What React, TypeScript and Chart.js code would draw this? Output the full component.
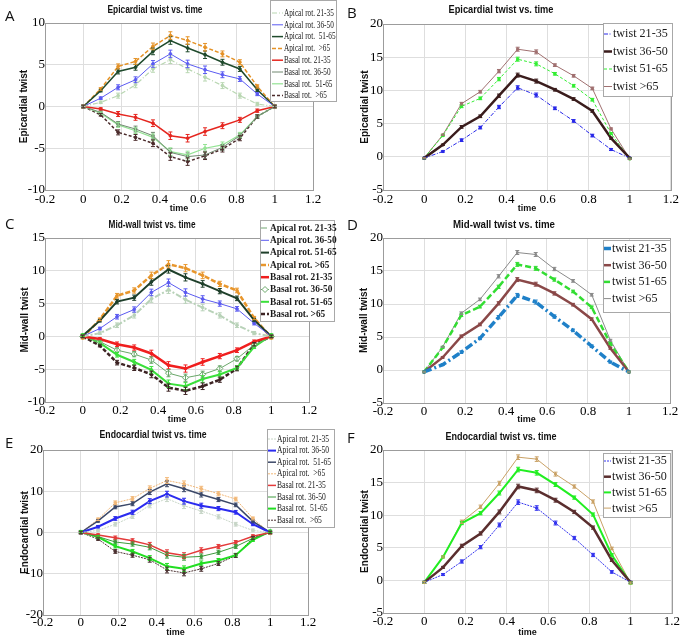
import React, { useEffect, useRef } from "react";
import { Chart, registerables } from "chart.js";

Chart.register(...registerables);

// ---------- data ----------
const times = [0, 0.091, 0.182, 0.273, 0.364, 0.455, 0.545, 0.636, 0.727, 0.818, 0.909, 1];
const xTickMin = -0.2;
const xTickMax = 1.2;

const apicalBasalLabels = ["Apical rot. 21-35", "Apical rot. 36-50", "Apical rot.  51-65", "Apical rot.  >65", "Basal rot. 21-35", "Basal rot. 36-50", "Basal rot.  51-65", "Basal rot.  >65"];
const apicalBasalLabelsMid = ["Apical rot. 21-35", "Apical rot. 36-50", "Apical rot. 51-65", "Apical rot. >65", "Basal rot. 21-35", "Basal rot. 36-50", "Basal rot. 51-65", "Basal rot. >65"];
const twistLabels = ["twist 21-35", "twist 36-50", "twist 51-65", "twist >65"];

// A: epicardial rotations
const epiApical21 = [0, 0.5, 1.3, 2.6, 4.5, 5.6, 4.5, 3.5, 2.5, 1.3, 0.3, 0];
const epiApical36 = [0, 1.0, 2.3, 3.2, 5.1, 6.3, 5.1, 4.4, 3.8, 3.3, 1.5, 0];
const epiApical51 = [0, 1.9, 4.2, 4.7, 6.6, 7.9, 7.0, 6.2, 5.3, 4.5, 2.0, 0];
const epiApical65 = [0, 2.1, 4.8, 5.4, 7.2, 8.5, 7.9, 7.1, 6.3, 5.3, 2.4, 0];
const epiBasal21 = [0, -0.3, -0.9, -1.3, -2.0, -3.5, -3.8, -3.0, -2.3, -1.6, -0.5, 0];
const epiBasal36 = [0, -0.7, -2.1, -2.7, -3.5, -5.5, -6.0, -5.8, -4.9, -3.5, -1.2, 0];
const epiBasal51 = [0, -0.8, -2.2, -2.9, -3.7, -5.4, -5.8, -5.0, -4.6, -3.4, -1.2, 0];
const epiBasal65 = [0, -1.0, -3.1, -3.7, -4.4, -6.0, -6.6, -5.9, -5.1, -3.8, -1.2, 0];
const errA = [0.15, 0.15, 0.3, 0.35, 0.4, 0.45, 0.45, 0.45, 0.35, 0.3, 0.2, 0.15];

// B: epicardial twist
const epiTwist21 = [-0.2, 0.8, 2.5, 4.4, 7.5, 10.4, 9.3, 7.3, 5.4, 3.2, 1.1, -0.2];
const epiTwist36 = [-0.2, 1.8, 4.5, 6.1, 9.2, 12.3, 11.4, 10.1, 8.7, 6.9, 2.8, -0.2];
const epiTwist51 = [-0.2, 3.2, 7.6, 8.8, 11.7, 14.7, 14.0, 12.5, 10.7, 8.6, 3.5, -0.3];
const epiTwist65 = [-0.2, 3.3, 8.0, 9.8, 12.9, 16.2, 15.8, 13.8, 12.2, 10.3, 4.2, -0.3];
const errB = [0.1, 0.1, 0.2, 0.2, 0.25, 0.3, 0.3, 0.2, 0.2, 0.2, 0.15, 0.1];

// C: mid-wall rotations
const midApical21 = [0, 0.5, 1.7, 3.2, 5.7, 7.1, 5.6, 4.4, 3.2, 1.7, 0.5, 0];
const midApical36 = [0, 1.2, 3.0, 4.1, 6.7, 8.2, 6.7, 5.7, 5.0, 4.2, 2.0, 0];
const midApical51 = [0.1, 2.4, 5.3, 5.9, 8.3, 10.2, 9.0, 8.0, 6.9, 5.8, 2.5, 0];
const midApical65 = [-0.2, 2.6, 6.2, 7.0, 9.3, 11.0, 10.4, 9.3, 8.0, 7.0, 2.8, -0.2];
const midBasal21 = [0, -0.4, -1.2, -1.7, -2.6, -4.4, -4.9, -3.9, -3.0, -2.1, -0.8, 0];
const midBasal36 = [0, -0.8, -2.1, -2.7, -3.6, -5.6, -6.3, -5.8, -4.9, -3.4, -1.3, 0];
const midBasal51 = [0.2, -1.0, -2.8, -3.9, -5.1, -7.2, -7.6, -6.5, -5.8, -4.8, -1.6, 0.2];
const midBasal65 = [0, -1.4, -4.0, -4.8, -5.8, -7.8, -8.3, -7.6, -6.6, -4.9, -1.2, 0];
const errC = [0.2, 0.2, 0.35, 0.4, 0.5, 0.55, 0.55, 0.5, 0.4, 0.35, 0.25, 0.2];

// D: mid-wall twist
const midTwist21 = [-0.3, 0.8, 2.7, 4.8, 8.0, 11.3, 10.3, 8.1, 6.0, 3.6, 1.2, -0.3];
const midTwist36 = [-0.3, 1.9, 5.1, 6.9, 10.1, 13.7, 13.0, 11.6, 9.9, 7.7, 3.3, -0.3];
const midTwist51 = [-0.3, 3.4, 8.3, 9.6, 12.6, 16.0, 15.4, 13.7, 11.9, 9.5, 4.0, -0.3];
const midTwist65 = [-0.3, 3.5, 8.6, 10.7, 14.2, 17.8, 17.5, 15.3, 13.5, 11.4, 4.5, -0.3];
const errD = [0.1, 0.1, 0.2, 0.2, 0.25, 0.3, 0.3, 0.25, 0.2, 0.2, 0.15, 0.1];

// E: endocardial rotations
const endoApical21 = [0, 0.5, 2.0, 3.9, 6.6, 8.2, 6.5, 5.2, 3.8, 2.0, 0.5, 0];
const endoApical36 = [0, 1.4, 3.4, 4.9, 7.6, 9.3, 7.6, 6.5, 5.8, 4.9, 2.0, 0];
const endoApical51 = [0, 2.8, 6.2, 7.0, 9.8, 11.8, 10.6, 9.2, 8.0, 6.7, 2.7, 0];
const endoApical65 = [0, 3.2, 7.2, 8.2, 10.7, 12.6, 11.8, 10.6, 9.4, 8.1, 3.4, -0.2];
const endoBasal21 = [0, -0.6, -1.3, -2.0, -3.0, -4.9, -5.6, -4.3, -3.4, -2.4, -0.9, 0];
const endoBasal36 = [0, -1.0, -2.3, -2.8, -3.6, -5.5, -6.0, -5.8, -4.8, -3.4, -1.4, 0];
const endoBasal51 = [0.2, -1.1, -3.3, -4.6, -6.2, -8.2, -8.8, -7.5, -6.8, -5.5, -1.8, 0.3];
const endoBasal65 = [0, -1.6, -4.6, -5.5, -6.6, -9.1, -9.8, -8.8, -7.5, -5.6, -1.3, 0];
const errE = [0.3, 0.3, 0.45, 0.5, 0.6, 0.7, 0.7, 0.6, 0.5, 0.45, 0.35, 0.3];

// F: endocardial twist
const endoTwist21 = [-0.3, 0.9, 2.9, 5.1, 8.5, 12.0, 11.1, 8.8, 6.5, 3.9, 1.3, -0.3];
const endoTwist36 = [-0.3, 2.0, 5.3, 7.2, 10.5, 14.4, 13.8, 12.3, 10.5, 8.1, 3.1, -0.3];
const endoTwist51 = [-0.3, 3.6, 8.8, 10.3, 13.4, 17.0, 16.5, 14.7, 12.7, 10.1, 3.9, -0.4];
const endoTwist65 = [-0.3, 3.6, 9.0, 11.3, 14.9, 18.9, 18.6, 16.3, 14.4, 12.1, 4.9, -0.4];
const errF = [0.15, 0.15, 0.25, 0.25, 0.3, 0.35, 0.35, 0.3, 0.25, 0.25, 0.2, 0.15];

// ---------- helpers ----------
const SANS = "'Liberation Sans', Arial, sans-serif";
const SERIF = "'Liberation Serif', 'Times New Roman', serif";

type Sty = { color: string; width: number; dash?: number[]; point?: string; radius?: number; pointBg?: string };

function series(label: string, vals: number[], errs: number[], s: Sty) {
  return {
    label,
    data: times.map((t, i) => ({ x: t, y: vals[i] })),
    errors: errs,
    borderColor: s.color,
    backgroundColor: s.color,
    borderWidth: s.width,
    borderDash: s.dash || [],
    pointStyle: s.point || "circle",
    pointRadius: s.radius ?? 1.4,
    pointBorderWidth: 1,
    pointBackgroundColor: s.pointBg || s.color,
    pointBorderColor: s.color,
    tension: 0,
    fill: false,
  };
}

const errorBarsPlugin = {
  id: "errorBars",
  afterDatasetsDraw(chart: any) {
    const ctx = chart.ctx;
    const ys = chart.scales.y;
    chart.data.datasets.forEach((ds: any, i: number) => {
      if (!ds.errors) return;
      const meta = chart.getDatasetMeta(i);
      ctx.save();
      ctx.strokeStyle = ds.borderColor;
      ctx.lineWidth = 1;
      ctx.setLineDash([]);
      meta.data.forEach((pt: any, j: number) => {
        const v = ds.data[j].y;
        const e = ds.errors[j];
        const yt = ys.getPixelForValue(v + e);
        const yb = ys.getPixelForValue(v - e);
        ctx.beginPath();
        ctx.moveTo(pt.x, yt);
        ctx.lineTo(pt.x, yb);
        ctx.moveTo(pt.x - 2, yt);
        ctx.lineTo(pt.x + 2, yt);
        ctx.moveTo(pt.x - 2, yb);
        ctx.lineTo(pt.x + 2, yb);
        ctx.stroke();
      });
      ctx.restore();
    });
  },
};

const framePlugin = {
  id: "frame",
  beforeDatasetsDraw(chart: any) {
    const { ctx, chartArea: a } = chart;
    ctx.save();
    ctx.strokeStyle = "#9c9c9c";
    ctx.lineWidth = 1;
    ctx.strokeRect(Math.round(a.left) + 0.5, Math.round(a.top) + 0.5, Math.round(a.right - a.left), Math.round(a.bottom - a.top));
    ctx.restore();
  },
};

const panelTitlePlugin = {
  id: "panelTitle",
  afterDraw(chart: any, _args: any, o: any) {
    if (!o || !o.text) return;
    const ctx = chart.ctx;
    ctx.save();
    ctx.font = o.textFont;
    const w = ctx.measureText(o.text).width;
    const sx = o.width / w;
    ctx.fillStyle = "#111";
    ctx.textAlign = "center";
    ctx.textBaseline = "middle";
    ctx.translate(o.cx, o.cy);
    ctx.scale(sx, 1);
    ctx.fillText(o.text, 0, 0);
    ctx.restore();
  },
};

const boxLegendPlugin = {
  id: "boxLegend",
  afterDraw(chart: any, _args: any, o: any) {
    if (!o || o.x0 === undefined) return;
    const ctx = chart.ctx;
    ctx.save();
    ctx.fillStyle = "#ffffff";
    ctx.fillRect(o.x0, o.y0, o.x1 - o.x0, o.y1 - o.y0);
    ctx.strokeStyle = "#a8a8a8";
    ctx.lineWidth = 1;
    ctx.strokeRect(o.x0 + 0.5, o.y0 + 0.5, o.x1 - o.x0 - 1, o.y1 - o.y0 - 1);
    chart.data.datasets.forEach((ds: any, i: number) => {
      const y = o.row0 + i * o.step;
      ctx.strokeStyle = ds.borderColor;
      ctx.lineWidth = ds.borderWidth;
      ctx.setLineDash(ds.borderDash || []);
      ctx.beginPath();
      ctx.moveTo(o.sampleX0, y);
      ctx.lineTo(o.textX - 1, y);
      ctx.stroke();
      ctx.setLineDash([]);
      if (ds.pointStyle === "rectRot") {
        const cx = (o.sampleX0 + o.textX - 1) / 2;
        ctx.fillStyle = "#fff";
        ctx.lineWidth = 1;
        ctx.beginPath();
        ctx.moveTo(cx, y - 3);
        ctx.lineTo(cx + 3, y);
        ctx.lineTo(cx, y + 3);
        ctx.lineTo(cx - 3, y);
        ctx.closePath();
        ctx.fill();
        ctx.stroke();
      }
      ctx.fillStyle = "#1a1a1a";
      ctx.font = o.textFont;
      ctx.textBaseline = "middle";
      ctx.textAlign = "left";
      ctx.save();
      ctx.translate(o.textX, y);
      ctx.scale(o.sx, 1);
      ctx.fillText(ds.label, 0, 0);
      ctx.restore();
    });
    ctx.restore();
  },
};

type PanelCfg = {
  letter: string;
  letterPos: { x: number; y: number };
  title: string;
  titlePos: { cx: number; cy: number; width: number };
  yTitle: string;
  box: { left: number; top: number; w: number; h: number };
  area: { l: number; t: number; r: number; b: number };
  yMin: number;
  yMax: number;
  yStep: number;
  yTitlePad: number;
  xTickPad: number;
  datasets: any[];
  legend: { x0: number; y0: number; x1: number; y1: number; row0: number; step: number; textX: number; sampleX0: number; textFont: string; sx: number };
};

const panels: PanelCfg[] = [
  {
    letter: "A",
    letterPos: { x: 5, y: 8 },
    title: "Epicardial twist vs. time",
    titlePos: { cx: 155, cy: 10, width: 95 },
    yTitle: "Epicardial twist",
    box: { left: 0, top: 0, w: 340, h: 214 },
    area: { l: 45, t: 23, r: 313, b: 190 },
    yMin: -10, yMax: 10, yStep: 5,
    yTitlePad: 18, xTickPad: 2,
    datasets: [
      series(apicalBasalLabels[0], epiApical21, errA, { color: "#b9d7b2", width: 1.2, dash: [5, 2, 1, 2] }),
      series(apicalBasalLabels[1], epiApical36, errA, { color: "#5b5bf2", width: 1 }),
      series(apicalBasalLabels[2], epiApical51, errA, { color: "#1f4a2c", width: 1.5 }),
      series(apicalBasalLabels[3], epiApical65, errA, { color: "#e59226", width: 1.5, dash: [4, 2] }),
      series(apicalBasalLabels[4], epiBasal21, errA, { color: "#e5261f", width: 1.5 }),
      series(apicalBasalLabels[5], epiBasal36, errA, { color: "#708870", width: 1 }),
      series(apicalBasalLabels[6], epiBasal51, errA, { color: "#94e394", width: 1.2 }),
      series(apicalBasalLabels[7], epiBasal65, errA, { color: "#4b2b2b", width: 1.5, dash: [3, 2] }),
    ],
    legend: { x0: 270, y0: 0, x1: 337, y1: 102, row0: 13, step: 11.8, textX: 284, sampleX0: 272, textFont: `11px ${SERIF}`, sx: 0.66 },
  },
  {
    letter: "B",
    letterPos: { x: 347, y: 5 },
    title: "Epicardial twist vs. time",
    titlePos: { cx: 501, cy: 10, width: 105 },
    yTitle: "Epicardial twist",
    box: { left: 340, top: 0, w: 341, h: 214 },
    area: { l: 383, t: 24, r: 673, b: 190 },
    yMin: -5, yMax: 20, yStep: 5,
    yTitlePad: 19, xTickPad: 2,
    datasets: [
      series(twistLabels[0], epiTwist21, errB, { color: "#2828e8", width: 1, dash: [4, 1.5, 1, 1.5], point: "rect", radius: 1.5 }),
      series(twistLabels[1], epiTwist36, errB, { color: "#3a1c1c", width: 2.5, point: "rect", radius: 1.5 }),
      series(twistLabels[2], epiTwist51, errB, { color: "#33ee33", width: 1, dash: [3, 2], point: "rect", radius: 1.5 }),
      series(twistLabels[3], epiTwist65, errB, { color: "#a07070", width: 1, point: "rect", radius: 1.5 }),
    ],
    legend: { x0: 603, y0: 23, x1: 673, y1: 97, row0: 34, step: 17.5, textX: 613, sampleX0: 604, textFont: `13px ${SERIF}`, sx: 0.93 },
  },
  {
    letter: "C",
    letterPos: { x: 5, y: 216 },
    title: "Mid-wall twist vs. time",
    titlePos: { cx: 152, cy: 225, width: 87 },
    yTitle: "Mid-wall twist",
    box: { left: 0, top: 212, w: 340, h: 213 },
    area: { l: 45, t: 238, r: 309, b: 402 },
    yMin: -10, yMax: 15, yStep: 5,
    yTitlePad: 19, xTickPad: 1,
    datasets: [
      series(apicalBasalLabelsMid[0], midApical21, errC, { color: "#b8d2b8", width: 2, dash: [6, 2, 2, 2] }),
      series(apicalBasalLabelsMid[1], midApical36, errC, { color: "#5a5af0", width: 1 }),
      series(apicalBasalLabelsMid[2], midApical51, errC, { color: "#1e3f2a", width: 2 }),
      series(apicalBasalLabelsMid[3], midApical65, errC, { color: "#e8962c", width: 2.5, dash: [5, 2] }),
      series(apicalBasalLabelsMid[4], midBasal21, errC, { color: "#f01e1e", width: 2.5 }),
      series(apicalBasalLabelsMid[5], midBasal36, errC, { color: "#6aa86a", width: 1, point: "rectRot", radius: 3, pointBg: "#ffffff" }),
      series(apicalBasalLabelsMid[6], midBasal51, errC, { color: "#3ae03a", width: 2 }),
      series(apicalBasalLabelsMid[7], midBasal65, errC, { color: "#3d2424", width: 2.5, dash: [4, 2] }),
    ],
    legend: { x0: 260, y0: 220, x1: 335, y1: 322, row0: 228, step: 12.3, textX: 270, sampleX0: 261, textFont: `bold 11px ${SERIF}`, sx: 0.85 },
  },
  {
    letter: "D",
    letterPos: { x: 347, y: 217 },
    title: "Mid-wall twist vs. time",
    titlePos: { cx: 504, cy: 225, width: 102 },
    yTitle: "Mid-wall twist",
    box: { left: 340, top: 212, w: 341, h: 213 },
    area: { l: 383, t: 238, r: 670, b: 403 },
    yMin: -5, yMax: 20, yStep: 5,
    yTitlePad: 18, xTickPad: 1,
    datasets: [
      series(twistLabels[0], midTwist21, errD, { color: "#1f80c8", width: 3.5, dash: [8, 3, 2, 3], point: "rect", radius: 1.5 }),
      series(twistLabels[1], midTwist36, errD, { color: "#8a4848", width: 2.5, point: "rect", radius: 1.5 }),
      series(twistLabels[2], midTwist51, errD, { color: "#33dd33", width: 2.5, dash: [6, 3], point: "rect", radius: 1.5 }),
      series(twistLabels[3], midTwist65, errD, { color: "#8a8a8a", width: 1, point: "rect", radius: 1.2 }),
    ],
    legend: { x0: 603, y0: 240, x1: 671, y1: 313, row0: 248.5, step: 16.7, textX: 612, sampleX0: 604, textFont: `13px ${SERIF}`, sx: 0.93 },
  },
  {
    letter: "E",
    letterPos: { x: 5, y: 435 },
    title: "Endocardial twist vs. time",
    titlePos: { cx: 153, cy: 435, width: 107 },
    yTitle: "Endocardial twist",
    box: { left: 0, top: 424, w: 340, h: 214 },
    area: { l: 43, t: 450, r: 308, b: 615 },
    yMin: -20, yMax: 20, yStep: 10,
    yTitlePad: 19, xTickPad: 0,
    datasets: [
      series(apicalBasalLabels[0], endoApical21, errE, { color: "#c8d6c8", width: 1, dash: [2, 1] }),
      series(apicalBasalLabels[1], endoApical36, errE, { color: "#2b2bef", width: 2 }),
      series(apicalBasalLabels[2], endoApical51, errE, { color: "#3b4868", width: 1.5 }),
      series(apicalBasalLabels[3], endoApical65, errE, { color: "#f2b878", width: 1, dash: [2, 1] }),
      series(apicalBasalLabels[4], endoBasal21, errE, { color: "#e43a3a", width: 1.5 }),
      series(apicalBasalLabels[5], endoBasal36, errE, { color: "#3c9a3c", width: 1 }),
      series(apicalBasalLabels[6], endoBasal51, errE, { color: "#22de22", width: 2 }),
      series(apicalBasalLabels[7], endoBasal65, errE, { color: "#4a3030", width: 1, dash: [2, 1] }),
    ],
    legend: { x0: 267, y0: 429, x1: 335, y1: 528, row0: 439, step: 11.6, textX: 277, sampleX0: 268, textFont: `10px ${SERIF}`, sx: 0.76 },
  },
  {
    letter: "F",
    letterPos: { x: 347, y: 430 },
    title: "Endocardial twist vs. time",
    titlePos: { cx: 501, cy: 437, width: 111 },
    yTitle: "Endocardial twist",
    box: { left: 340, top: 424, w: 341, h: 214 },
    area: { l: 383, t: 450, r: 673, b: 613 },
    yMin: -5, yMax: 20, yStep: 5,
    yTitlePad: 19, xTickPad: 1,
    datasets: [
      series(twistLabels[0], endoTwist21, errF, { color: "#3434ee", width: 1, dash: [2, 1], point: "rect", radius: 1.5 }),
      series(twistLabels[1], endoTwist36, errF, { color: "#5a2e2e", width: 2.5, point: "rect", radius: 1.5 }),
      series(twistLabels[2], endoTwist51, errF, { color: "#22ee22", width: 2, point: "rect", radius: 1.5 }),
      series(twistLabels[3], endoTwist65, errF, { color: "#c9a165", width: 1, point: "rect", radius: 1.2 }),
    ],
    legend: { x0: 603, y0: 453, x1: 671, y1: 518, row0: 461, step: 15.7, textX: 612, sampleX0: 604, textFont: `13px ${SERIF}`, sx: 0.93 },
  },
];

function Panel({ cfg }: { cfg: PanelCfg }) {
  const ref = useRef<HTMLCanvasElement | null>(null);
  useEffect(() => {
    if (!ref.current) return;
    const { box, area } = cfg;
    const padRight = box.left + box.w - area.r;
    const yw = area.l - box.left;
    const xh = box.top + box.h - area.b;
    const titleH = area.t - box.top;
    const lg = cfg.legend;
    const chart = new Chart(ref.current, {
      type: "line",
      data: { datasets: cfg.datasets },
      plugins: [framePlugin, errorBarsPlugin, boxLegendPlugin, panelTitlePlugin],
      options: {
        animation: false,
        responsive: false,
        maintainAspectRatio: false,
        layout: { padding: { left: 0, right: padRight, top: titleH, bottom: 0 } },
        plugins: {
          legend: { display: false },
          tooltip: { enabled: false },
          title: { display: false },
          panelTitle: {
            text: cfg.title,
            cx: cfg.titlePos.cx - box.left,
            cy: cfg.titlePos.cy - box.top,
            width: cfg.titlePos.width,
            textFont: `bold 11px ${SANS}`,
          },
          boxLegend: {
            x0: lg.x0 - box.left, y0: lg.y0 - box.top, x1: lg.x1 - box.left, y1: lg.y1 - box.top,
            row0: lg.row0 - box.top, step: lg.step, textX: lg.textX - box.left, sampleX0: lg.sampleX0 - box.left,
            textFont: lg.textFont, sx: lg.sx,
          },
        } as any,
        scales: {
          x: {
            type: "linear",
            min: xTickMin,
            max: xTickMax,
            afterFit: (s: any) => { s.height = xh; },
            ticks: {
              stepSize: 0.2,
              autoSkip: false,
              maxRotation: 0,
              padding: cfg.xTickPad,
              color: "#000",
              font: { family: SERIF, size: 13 },
              callback: (v: any) => String(Math.round(Number(v) * 10) / 10),
            },
            grid: { color: "#dedede", drawTicks: false },
            border: { display: false },
            title: {
              display: true,
              text: "time",
              color: "#111",
              font: { family: SANS, size: 9, weight: "bold" },
              padding: { top: 0, bottom: 0 },
            },
          },
          y: {
            type: "linear",
            min: cfg.yMin,
            max: cfg.yMax,
            afterFit: (s: any) => { s.width = yw; },
            ticks: {
              stepSize: cfg.yStep,
              padding: 0,
              color: "#000",
              font: { family: SERIF, size: 13 },
            },
            grid: { color: "#dedede", drawTicks: false },
            border: { display: false },
            title: {
              display: true,
              text: cfg.yTitle,
              color: "#111",
              font: { family: SANS, size: 10, weight: "bold" },
              padding: { top: cfg.yTitlePad, bottom: 0 },
            },
          },
        },
      } as any,
    });
    return () => chart.destroy();
  }, [cfg]);
  return (
    <>
      <canvas
        ref={ref}
        width={cfg.box.w}
        height={cfg.box.h}
        style={{ position: "absolute", left: cfg.box.left, top: cfg.box.top, width: cfg.box.w, height: cfg.box.h }}
      />
      <div
        style={{
          position: "absolute",
          left: cfg.letterPos.x,
          top: cfg.letterPos.y,
          fontFamily: "'Open Sans', sans-serif",
          fontSize: 15,
          lineHeight: "15px",
          color: "#111",
        }}
      >
        {cfg.letter}
      </div>
    </>
  );
}

export default function App() {
  return (
    <div style={{ position: "absolute", left: 0, top: 0, width: 681, height: 638, background: "#fff", overflow: "hidden" }}>
      {panels.map((p) => (
        <Panel key={p.letter} cfg={p} />
      ))}
    </div>
  );
}
